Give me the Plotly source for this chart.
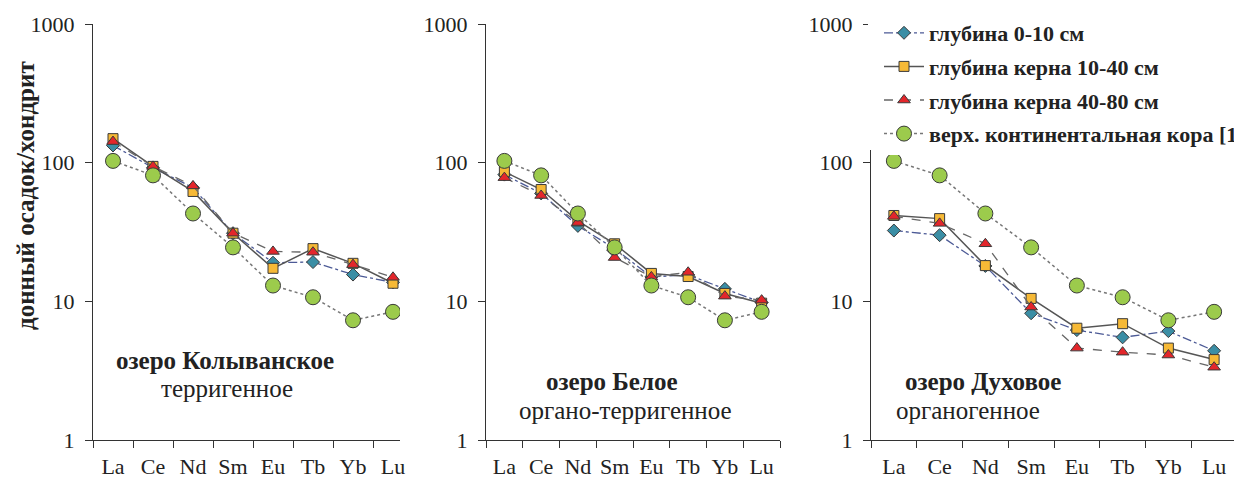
import plotly.graph_objects as go

elements = ["La", "Ce", "Nd", "Sm", "Eu", "Tb", "Yb", "Lu"]

series_names = [
    "глубина 0-10 см",
    "глубина керна 10-40 см",
    "глубина керна 40-80 см",
    "верх. континентальная кора [10]",
]

# Lake Kolyvanskoye (terrigenous)
kol_0_10 = [133, 92, 66, 31, 19, 19.2, 15.6, 13.7]
kol_10_40 = [149, 94, 62, 31, 17.3, 24, 18.8, 13.5]
kol_40_80 = [142, 94, 68, 31, 22.9, 22.6, 18.4, 14.9]

# Lake Beloye (organo-terrigenous)
bel_0_10 = [82, 60, 35, 24, 15, 15.5, 12.3, 9.8]
bel_10_40 = [86, 64, 38, 26, 15.9, 15.1, 11.4, 9.7]
bel_40_80 = [78, 58, 37, 20.7, 15, 16.2, 10.9, 10.2]

# Lake Dukhovoye (organogenic)
duh_0_10 = [32.4, 30, 18, 8.2, 6.2, 5.5, 6.1, 4.4]
duh_10_40 = [41.6, 39.5, 18.1, 10.5, 6.4, 6.9, 4.6, 3.8]
duh_40_80 = [41, 36.5, 26, 9.1, 4.6, 4.3, 4.1, 3.35]

# Upper continental crust (same reference in every panel)
ucc = [103, 81, 43, 24.5, 13, 10.7, 7.3, 8.4]

panels = [
    (kol_0_10, kol_10_40, kol_40_80, ucc),
    (bel_0_10, bel_10_40, bel_40_80, ucc),
    (duh_0_10, duh_10_40, duh_40_80, ucc),
]

lake_titles = ["озеро Колыванское", "озеро Белое", "озеро Духовое"]
lake_types = ["терригенное", "органо-терригенное", "органогенное"]
y_title = "донный осадок/хондрит"

# page has an 8px body margin; figure is sized to fill the rest of the window
OFF = 8
W, H = 1242 - OFF, 482 - OFF
FONT = "Liberation Serif, Times New Roman, serif"
TXT = "#222222"


def px(x):
    return (x - OFF) / W


def py(y):
    return 1 - (y - OFF) / H


styles = [
    dict(symbol="diamond", msize=10, mcolor="#3b8ea5", lcolor="#4c5a96", dash="dashdot", lw=1.3),
    dict(symbol="square", msize=10, mcolor="#f6b936", lcolor="#555555", dash="solid", lw=1.5),
    dict(symbol="triangle-up", msize=11, mcolor="#e3262b", lcolor="#666666", dash="dash", lw=1.3),
    dict(symbol="circle", msize=15, mcolor="#9ccb4c", lcolor="#777777", dash="dot", lw=1.5),
]

fig = go.Figure()

# page-pixel layout of the three panels
x_px = [(93, 400), (486, 780), (871, 1237)]
x_ranges = [[-0.5, -0.5 + (400 - 93) / 40.0], [-0.5, 7.5], [-0.5, 7.5]]
y_top, y_bot = 24, 440

for p, data in enumerate(panels):
    ax = "" if p == 0 else str(p + 1)
    for s, vals in enumerate(data):
        st = styles[s]
        fig.add_trace(go.Scatter(
            x=elements, y=vals,
            mode="lines+markers",
            name=series_names[s],
            legendgroup=series_names[s],
            showlegend=(p == 0),
            line=dict(color=st["lcolor"], dash=st["dash"], width=st["lw"]),
            marker=dict(symbol=st["symbol"], size=st["msize"], color=st["mcolor"],
                        line=dict(color="#3a3a3a", width=1)),
            xaxis="x" + ax, yaxis="y" + ax,
        ))

axis_common = dict(showline=True, linecolor="#333333", linewidth=1.3,
                   ticks="outside", tickcolor="#333333", ticklen=7, tickwidth=1.2,
                   showgrid=False, zeroline=False, automargin=False,
                   tickfont=dict(family=FONT, size=22, color=TXT))

layout = dict(
    width=W, height=H,
    margin=dict(l=0, r=0, t=0, b=0, pad=0, autoexpand=False),
    paper_bgcolor="white", plot_bgcolor="white",
    showlegend=True,
    legend=dict(x=px(879), y=py(12), xanchor="left", yanchor="top",
                bgcolor="white",
                font=dict(family=FONT, size=22, color=TXT, weight="bold"),
                tracegroupgap=2, itemwidth=40),
    # white strip hiding the top of the third panel's axis behind the legend
    shapes=[dict(type="rect", xref="paper", yref="paper",
                 x0=px(868), x1=px(882), y0=py(150), y1=py(12),
                 fillcolor="white", line=dict(width=0), layer="above")],
)

for p in range(3):
    ax = "" if p == 0 else str(p + 1)
    x0, x1 = x_px[p]
    layout["xaxis" + ax] = dict(axis_common, domain=[px(x0), px(x1)], type="category",
                                categoryorder="array", categoryarray=elements,
                                range=x_ranges[p], tickson="boundaries", tickangle=0,
                                ticklabelstandoff=6,
                                anchor="y" + ax)
    layout["yaxis" + ax] = dict(axis_common, domain=[py(y_bot), py(y_top)],
                                type="log", range=[0, 3],
                                tickvals=[1, 10, 100, 1000], ticktext=["1", "10", "100", "1000"],
                                ticklabelstandoff=6,
                                anchor="x" + ax)

fig.update_layout(**layout)

fig.add_annotation(x=px(25), y=py(196), xref="paper", yref="paper",
                   text=y_title, showarrow=False, textangle=-90,
                   font=dict(family=FONT, size=25, color=TXT, weight="bold"),
                   xanchor="center", yanchor="middle")

ann_pos = [((225, 360), (227, 388)), ((612, 381), (625, 410)), ((983, 381), (968, 410))]
for p in range(3):
    (bx, by), (nx, ny) = ann_pos[p]
    fig.add_annotation(x=px(bx), y=py(by), xref="paper", yref="paper",
                       text=lake_titles[p], showarrow=False,
                       font=dict(family=FONT, size=25, color=TXT, weight="bold"),
                       xanchor="center", yanchor="middle")
    fig.add_annotation(x=px(nx), y=py(ny), xref="paper", yref="paper",
                       text=lake_types[p], showarrow=False,
                       font=dict(family=FONT, size=25, color=TXT),
                       xanchor="center", yanchor="middle")

fig.write_html("out.html")
